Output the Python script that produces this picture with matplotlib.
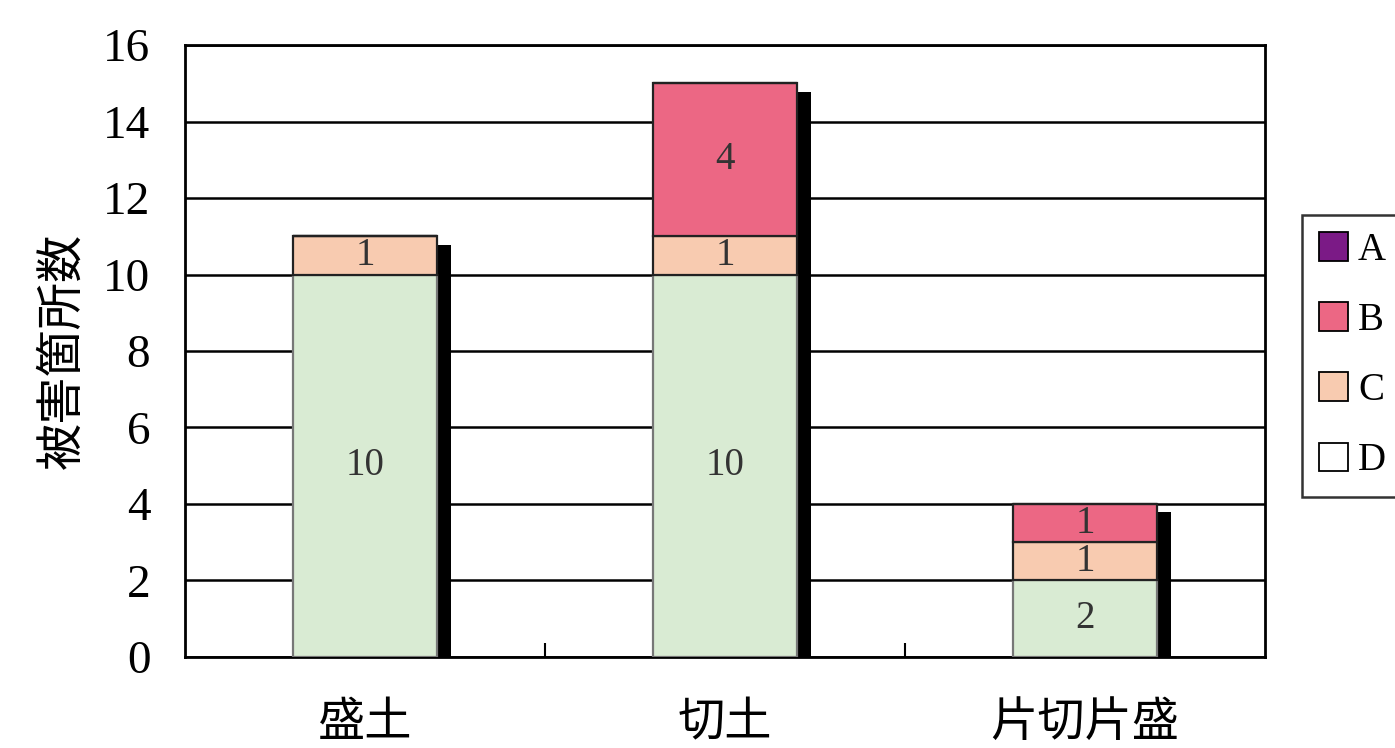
import matplotlib
matplotlib.use('Agg')
import matplotlib.pyplot as plt
from matplotlib.patches import Patch
import numpy as np

# damage counts per slope type, stacked bottom-up D, C, B, A
categories = ['盛土', '切土', '片切片盛']
series_names = ['A', 'B', 'C', 'D']
count_d = [10, 10, 2]
count_c = [1, 1, 1]
count_b = [0, 4, 1]
count_a = [0, 0, 0]
y_ticks = [0, 2, 4, 6, 8, 10, 12, 14, 16]

num_font = ['Liberation Serif', 'Noto Sans CJK JP']
cjk_font = ['Noto Sans CJK JP', 'DejaVu Sans']

colors = {'A': '#7b1a86', 'B': '#ec6784', 'C': '#f8cbb0', 'D': '#d9ebd3'}
legend_colors = {'A': '#7b1a86', 'B': '#ec6784', 'C': '#f8cbb0', 'D': '#ffffff'}

fig = plt.figure(figsize=(13.95, 7.48), dpi=100)
ax = fig.add_axes([0.1326, 0.1217, 0.7742, 0.8181])

x = np.arange(len(categories))
width = 0.40
stack = [('D', count_d), ('C', count_c), ('B', count_b), ('A', count_a)]

bottom = np.zeros(len(categories))
for name, vals in stack:
    vals = np.array(vals, dtype=float)
    ax.bar(x, vals, width, bottom=bottom, color=colors[name],
           edgecolor='#222222' if name != 'D' else '#777777',
           linewidth=1.6, zorder=3)
    for xi, b, v in zip(x, bottom, vals):
        if v > 0:
            ax.text(xi, b + v / 2, f'{int(v)}', ha='center', va='center',
                    fontsize=28, family=num_font, color='#333333', zorder=5)
    bottom += vals

# dark drop shadow on the right side of each stacked column
totals = bottom
ax.bar(x + width / 2, totals - 0.22, 0.04, align='edge', color='black',
       zorder=2.5)

ax.set_xlim(-0.5, 2.5)
ax.set_ylim(0, 16)
ax.set_yticks(y_ticks)
ax.set_yticklabels([str(t) for t in y_ticks], family=num_font, fontsize=34)
ax.set_xticks(x)
ax.set_xticklabels(categories, family=cjk_font, fontsize=34)
ax.set_xticks([0.5, 1.5], minor=True)
ax.tick_params(axis='x', which='major', length=0, pad=30)
ax.tick_params(axis='x', which='minor', length=10, direction='in', width=1.5)
ax.tick_params(axis='y', length=0, pad=25)

ax.yaxis.grid(True, color='black', linewidth=1.8, zorder=0)
ax.set_axisbelow(True)
for s in ax.spines.values():
    s.set_linewidth(2)

ax.set_ylabel('被害箇所数', family=cjk_font, fontsize=34, labelpad=12)

handles = [Patch(facecolor=legend_colors[n], edgecolor='black', linewidth=1.3)
           for n in series_names]
leg = fig.legend(handles, series_names, loc='upper left',
                 bbox_to_anchor=(0.933, 0.713), prop={'family': num_font, 'size': 28},
                 frameon=True, fancybox=False, edgecolor='black',
                 handlelength=0.75, handleheight=0.75, handletextpad=0.25,
                 labelspacing=0.85, borderpad=0.45, borderaxespad=0)
leg.get_frame().set_linewidth(1.8)

fig.savefig('out.png', dpi=100)
